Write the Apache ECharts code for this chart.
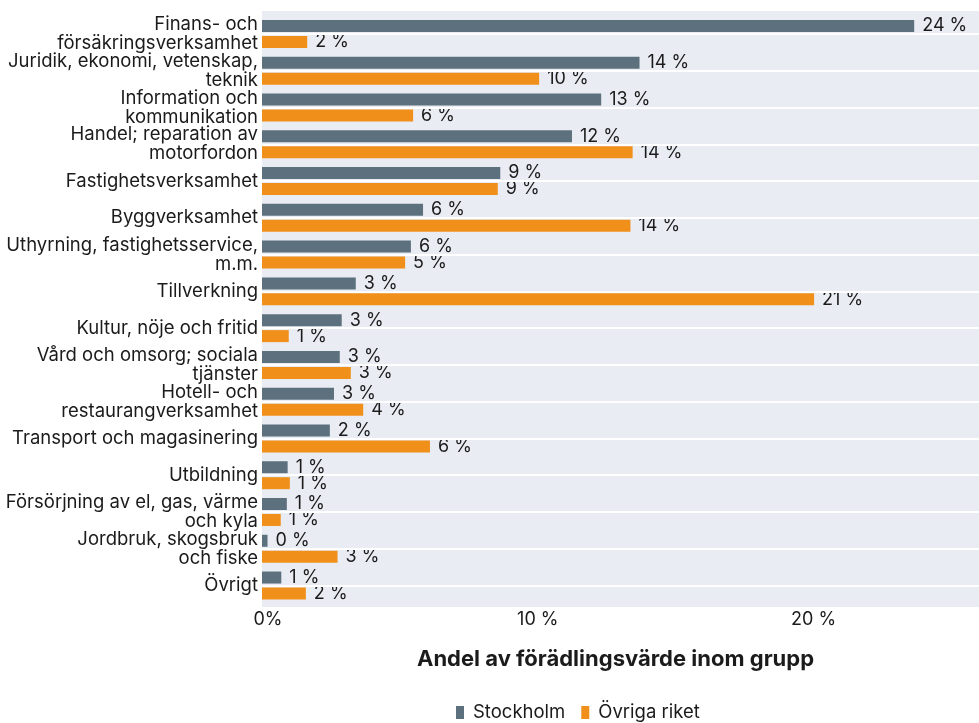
<!DOCTYPE html>
<html>
<head>
<meta charset="utf-8">
<script src="https://cdn.jsdelivr.net/npm/echarts@6/dist/echarts.min.js"></script>
<style>
  html, body { margin: 0; padding: 0; background: #fff; }
  #chart { width: 979px; height: 723px; }
</style>
</head>
<body>
<div id="chart"></div>
<script>
// categories, top to bottom
const categories = [
  "Finans- och\nförsäkringsverksamhet",
  "Juridik, ekonomi, vetenskap,\nteknik",
  "Information och\nkommunikation",
  "Handel; reparation av\nmotorfordon",
  "Fastighetsverksamhet",
  "Byggverksamhet",
  "Uthyrning, fastighetsservice,\nm.m.",
  "Tillverkning",
  "Kultur, nöje och fritid",
  "Vård och omsorg; sociala\ntjänster",
  "Hotell- och\nrestaurangverksamhet",
  "Transport och magasinering",
  "Utbildning",
  "Försörjning av el, gas, värme\noch kyla",
  "Jordbruk, skogsbruk\noch fiske",
  "Övrigt"
];

// bar lengths as read against the x axis
const stockholm = [23.65, 13.69, 12.30, 11.24, 8.64, 5.84, 5.40, 3.40, 2.89, 2.82, 2.61, 2.46, 0.93, 0.90, 0.20, 0.70];
const ovrigaRiket = [1.64, 10.05, 5.48, 13.44, 8.55, 13.36, 5.19, 20.02, 0.97, 3.22, 3.67, 6.09, 1.01, 0.68, 2.74, 1.59];

// numbers printed next to the bars
const stockholmLabels = [24, 14, 13, 12, 9, 6, 6, 3, 3, 3, 3, 2, 1, 1, 0, 1];
const ovrigaLabels = [2, 10, 6, 14, 9, 14, 5, 21, 1, 3, 4, 6, 1, 1, 3, 2];

const xTicks = [0, 10, 20];
const xMax = 26;

const FONT = "Inter";
const TEXT = "#1b1b1b";
const COL_STHLM = "#5c707d";
const COL_OVR = "#f0901a";

const chart = echarts.init(document.getElementById("chart"));

const barLabel = (labels) => ({
  show: true,
  position: "right",
  distance: 8,
  fontFamily: FONT,
  fontSize: 18,
  color: TEXT,
  formatter: (p) => labels[p.dataIndex] + " %"
});

chart.setOption({
  animation: false,
  textStyle: { fontFamily: FONT },
  grid: [
    // panel background
    { left: 262, right: 0, top: 11, bottom: 116, show: true, backgroundColor: "#e9edf3", borderWidth: 0 },
    // bars (ggplot style 0.6 category padding)
    { left: 262, right: 0, top: 15.6, bottom: 119.1 }
  ],
  legend: {
    data: ["Stockholm", "Övriga riket"],
    left: 451,
    top: 698,
    icon: "rect",
    itemWidth: 8,
    itemHeight: 13,
    itemGap: 16,
    textStyle: { fontFamily: FONT, fontSize: 18.5, color: TEXT, padding: [0, 0, 0, 4] }
  },
  xAxis: [
    {
      gridIndex: 0,
      type: "value",
      min: 0,
      max: xMax,
      interval: 10,
      axisLine: { show: false },
      axisTick: { show: false },
      splitLine: { show: false },
      axisLabel: {
        margin: 4,
        fontFamily: FONT,
        fontSize: 18,
        color: TEXT,
        showMaxLabel: false,
        formatter: (v) => xTicks.includes(v) ? (v === 0 ? "{z|0%}" : v + " %") : "",
        rich: { z: { fontFamily: FONT, fontSize: 18, color: TEXT, padding: [0, 0, 0, 12] } }
      },
      name: "Andel av förädlingsvärde inom grupp",
      nameLocation: "middle",
      nameGap: 41,
      nameTextStyle: { fontFamily: FONT, fontSize: 22, fontWeight: "bold", color: TEXT, padding: [0, 10, 0, 0] }
    },
    { gridIndex: 1, type: "value", min: 0, max: xMax, show: false, splitLine: { show: false } }
  ],
  yAxis: [
    { gridIndex: 0, type: "value", show: false, splitLine: { show: false } },
    {
      gridIndex: 1,
      type: "category",
      data: categories,
      inverse: true,
      axisLine: { show: false },
      axisTick: { show: false },
      splitLine: { show: false },
      axisLabel: {
        interval: 0,
        hideOverlap: false,
        showMinLabel: true,
        showMaxLabel: true,
        margin: 4,
        fontFamily: FONT,
        fontSize: 18.5,
        lineHeight: 19,
        color: TEXT,
        align: "right"
      }
    }
  ],
  series: [
    {
      // white grid lines at category centres
      name: "grid",
      type: "line",
      xAxisIndex: 1,
      yAxisIndex: 1,
      data: [],
      z: 1,
      silent: true,
      markLine: {
        silent: true,
        symbol: ["none", "none"],
        label: { show: false },
        lineStyle: { color: "#ffffff", width: 2, type: "solid" },
        data: categories.map((c) => ({ yAxis: c }))
      }
    },
    {
      name: "Stockholm",
      type: "bar",
      xAxisIndex: 1,
      yAxisIndex: 1,
      data: stockholm,
      barWidth: 12,
      barGap: "33%",
      itemStyle: { color: COL_STHLM },
      label: barLabel(stockholmLabels),
      z: 3
    },
    {
      name: "Övriga riket",
      type: "bar",
      xAxisIndex: 1,
      yAxisIndex: 1,
      data: ovrigaRiket,
      barWidth: 12,
      barGap: "33%",
      itemStyle: { color: COL_OVR },
      label: barLabel(ovrigaLabels),
      z: 3
    }
  ]
});
</script>
</body>
</html>
